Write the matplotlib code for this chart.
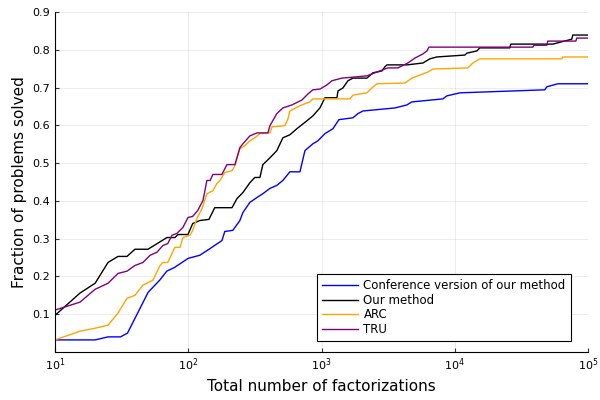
import numpy as np
import matplotlib
matplotlib.use("Agg")
import matplotlib.pyplot as plt
from matplotlib.ticker import LogLocator, NullLocator

# performance profile curves
conf_x = [10, 20, 25, 31, 35, 50, 61, 69, 79, 100, 122, 146, 179, 188, 216, 244, 257,
          290, 328, 363, 410, 462, 513, 579, 689, 751, 861, 939, 1061, 1218, 1351, 1722,
          1877, 2047, 3556, 4375, 4766, 8146, 8730, 10920, 47400, 49100, 59300, 100000]
conf_y = [0.032, 0.032, 0.040, 0.040, 0.050, 0.158, 0.190, 0.214, 0.224, 0.248, 0.256,
          0.274, 0.295, 0.319, 0.322, 0.348, 0.369, 0.396, 0.409, 0.419, 0.433, 0.441,
          0.454, 0.477, 0.477, 0.533, 0.551, 0.559, 0.578, 0.591, 0.615, 0.620, 0.631,
          0.638, 0.646, 0.654, 0.662, 0.670, 0.678, 0.686, 0.694, 0.702, 0.710, 0.710]

ours_x = [10, 15.4, 20, 25, 29.7, 34.7, 39.8, 49.9, 69.2, 79.4, 83.8, 99.5, 108, 122, 143,
          158, 213, 232, 257, 290, 316, 345, 363, 410, 462, 513, 579, 653, 777, 861, 973,
          1061, 1306, 1329, 1449, 1579, 1722, 2193, 2432, 2840, 2991, 3097, 4375, 5768,
          6501, 7339, 11900, 12330, 14660, 15420, 25880, 26350, 54450, 75570, 76900, 100000]
ours_y = [0.097, 0.156, 0.182, 0.237, 0.253, 0.253, 0.272, 0.272, 0.303, 0.303, 0.311,
          0.311, 0.340, 0.348, 0.351, 0.382, 0.382, 0.406, 0.422, 0.448, 0.462, 0.462,
          0.496, 0.514, 0.533, 0.567, 0.575, 0.591, 0.612, 0.625, 0.646, 0.673, 0.673,
          0.691, 0.699, 0.718, 0.725, 0.725, 0.739, 0.744, 0.755, 0.760, 0.760, 0.765,
          0.776, 0.781, 0.786, 0.791, 0.797, 0.805, 0.805, 0.815, 0.815, 0.828, 0.839, 0.839]

arc_x = [10, 15.4, 20, 25, 29.7, 34.7, 39.8, 45.7, 54.3, 61.4, 64.3, 70.2, 79.4, 86.7,
         91.3, 103, 108, 116, 127, 138, 153, 164, 173, 188, 213, 224, 244, 266, 290, 316,
         345, 410, 425, 531, 560, 579, 689, 818, 861, 1633, 1722, 2193, 2388, 2605, 4225,
         4766, 5470, 6285, 6855, 12540, 13670, 15420, 63530, 64700, 100000]
arc_y = [0.032, 0.055, 0.063, 0.071, 0.103, 0.142, 0.150, 0.177, 0.190, 0.229, 0.237,
         0.237, 0.277, 0.277, 0.303, 0.309, 0.322, 0.353, 0.380, 0.419, 0.427, 0.446,
         0.454, 0.475, 0.480, 0.493, 0.538, 0.546, 0.559, 0.567, 0.578, 0.580, 0.596,
         0.599, 0.617, 0.638, 0.652, 0.662, 0.670, 0.670, 0.680, 0.686, 0.699, 0.710,
         0.712, 0.725, 0.733, 0.741, 0.749, 0.752, 0.765, 0.776, 0.776, 0.781, 0.781]

tru_x = [10, 15.4, 20, 25, 29.7, 34.7, 39.8, 45.7, 51.7, 58.2, 64.6, 70.2, 75.5, 82.3,
         91.3, 99.5, 108, 118, 129, 138, 146, 153, 179, 188, 195, 224, 244, 257, 290, 328,
         396, 410, 462, 513, 600, 713, 791, 861, 973, 1099, 1197, 1423, 1782, 2193, 2388,
         2742, 3148, 3741, 4447, 5022, 5768, 6185, 6402, 38550, 39260, 49100, 49890,
         81100, 82300, 100000]
tru_y = [0.111, 0.132, 0.166, 0.182, 0.208, 0.214, 0.229, 0.237, 0.256, 0.264, 0.282,
         0.287, 0.309, 0.314, 0.330, 0.356, 0.359, 0.375, 0.401, 0.454, 0.454, 0.470,
         0.470, 0.485, 0.496, 0.496, 0.541, 0.551, 0.572, 0.580, 0.580, 0.599, 0.631,
         0.646, 0.654, 0.667, 0.683, 0.694, 0.696, 0.707, 0.718, 0.725, 0.728, 0.731,
         0.736, 0.744, 0.752, 0.752, 0.765, 0.778, 0.789, 0.797, 0.807, 0.807, 0.812,
         0.812, 0.823, 0.823, 0.831, 0.831]

fig = plt.figure(figsize=(6, 4), dpi=100)
ax = fig.add_axes([55 / 600, 48 / 400, 533 / 600, 340 / 400])

ax.plot(conf_x, conf_y, color="#0000ff", lw=1.0, label="Conference version of our method")
ax.plot(ours_x, ours_y, color="black", lw=1.0, label="Our method")
ax.plot(arc_x, arc_y, color="#ffa500", lw=1.0, label="ARC")
ax.plot(tru_x, tru_y, color="#800080", lw=1.0, label="TRU")

ax.set_xscale("log")
ax.set_xlim(10, 1e5)
ax.set_ylim(0.0, 0.9)
ax.xaxis.set_major_locator(LogLocator(base=10, numticks=10))
ax.xaxis.set_minor_locator(NullLocator())
ax.set_yticks(np.arange(0.1, 0.91, 0.1))

ax.grid(True, color="black", alpha=0.1, lw=0.5)
ax.spines["top"].set_visible(False)
ax.spines["right"].set_visible(False)
ax.tick_params(direction="in", labelsize=8, length=3, color="#333333")

ax.set_xlabel("Total number of factorizations", fontsize=11)
ax.set_ylabel("Fraction of problems solved", fontsize=11)

leg = ax.legend(loc="lower right", bbox_to_anchor=(1 - 17 / 533, 11 / 340),
                borderaxespad=0, fontsize=8.5, fancybox=False, framealpha=1,
                edgecolor="black", handlelength=3.0, handletextpad=0.5,
                labelspacing=0.12, borderpad=0.45)
leg.get_frame().set_linewidth(0.8)

fig.savefig("out.png", dpi=100)
